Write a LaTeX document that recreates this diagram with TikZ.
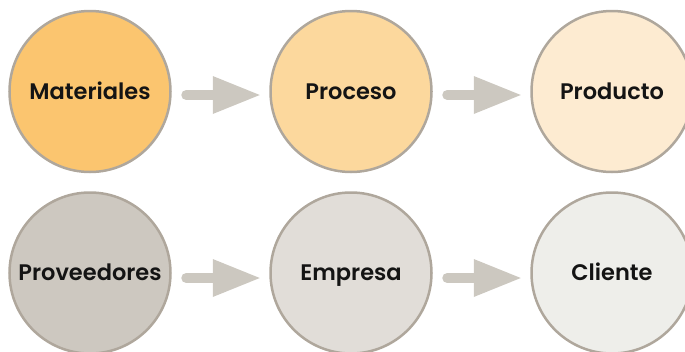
\documentclass[tikz,border=0pt]{standalone}
\usepackage{fontspec}
\setmainfont{Poppins}[BoldFont={Poppins SemiBold}]
\usetikzlibrary{arrows.meta}
\definecolor{cA}{HTML}{FBC56F}
\definecolor{cB}{HTML}{FCD89D}
\definecolor{cC}{HTML}{FDEBD1}
\definecolor{cD}{HTML}{CDC8C0}
\definecolor{cE}{HTML}{E1DDD8}
\definecolor{cF}{HTML}{EEEEEA}
\definecolor{bord}{HTML}{AFA79C}
\definecolor{arr}{HTML}{CCC8C0}
\definecolor{txt}{HTML}{141414}
\tikzset{
  disc/.style={circle, draw=bord, line width=2.5pt, minimum size=161pt, inner sep=0pt,
    text height=15.5pt, text depth=0pt,
    font=\fontsize{22.5}{26}\selectfont\bfseries, text=txt},
  flow/.style={draw=arr, line width=10pt, line cap=round,
    -{Triangle[length=47pt,width=38pt,line width=0pt]}}
}
\begin{document}
\begin{tikzpicture}[x=1pt,y=-1pt]
\useasboundingbox (0,0) rectangle (685,351);
\node[disc, fill=cA] (m) at (90,91.5) {Materiales};
\node[disc, fill=cB] (p) at (351,91.5) {Proceso};
\node[disc, fill=cC] (r) at (612,91.5) {Producto};
\node[disc, fill=cD] (v) at (90,273) {Proveedores};
\node[disc, fill=cE] (e) at (351,273) {Empresa};
\node[disc, fill=cF] (c) at (612,273) {Cliente};
\draw[flow] ([xshift=14.5pt,yshift=-3.5pt]m.east) -- ([xshift=-9.5pt,yshift=-3.5pt]p.west);
\draw[flow] ([xshift=14.5pt,yshift=-3.5pt]p.east) -- ([xshift=-9.5pt,yshift=-3.5pt]r.west);
\draw[flow] ([xshift=14.5pt,yshift=-5pt]v.east) -- ([xshift=-9.5pt,yshift=-5pt]e.west);
\draw[flow] ([xshift=14.5pt,yshift=-5pt]e.east) -- ([xshift=-9.5pt,yshift=-5pt]c.west);
\end{tikzpicture}
\end{document}
